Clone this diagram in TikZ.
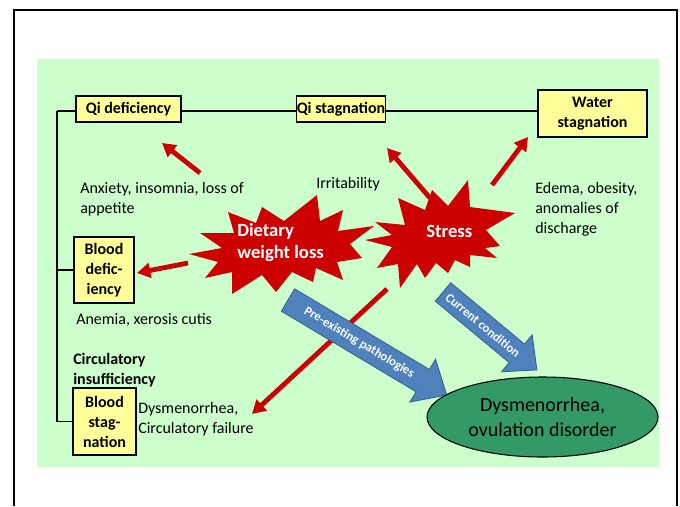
\documentclass[tikz,border=0pt]{standalone}
\usepackage{fontspec}
\setmainfont{Carlito}
\usetikzlibrary{arrows.meta,shapes.geometric}
\pgfdeclarelayer{bgA}
\pgfdeclarelayer{bgB}
\pgfsetlayers{bgA,bgB,main}
\definecolor{bggreen}{HTML}{CCFFCC}
\definecolor{boxyellow}{HTML}{FFFF99}
\definecolor{starred}{HTML}{CC0000}
\definecolor{arrblue}{HTML}{4F81BD}
\definecolor{arrblueline}{HTML}{385D8A}
\definecolor{ellgreen}{HTML}{339966}
\begin{document}
\begin{tikzpicture}[x=0.75pt,y=-0.75pt,
  ybox/.style={draw=black, line width=0.8pt, fill=boxyellow, inner sep=0pt,
    font=\fontsize{12}{15}\selectfont\bfseries, align=center},
  lbl/.style={inner sep=0pt, anchor=base west, align=left,
    font=\fontsize{12}{15}\selectfont},
  redarrow/.style={draw=starred, line width=3.6pt, -{Triangle[length=10pt,width=11pt]}},
  link/.style={draw=black, line width=1pt},
  startext/.style={inner sep=0pt, anchor=base west, align=left, text=white,
    font=\fontsize{14}{16}\selectfont\bfseries},
  blockarrow/.style={fill=arrblue, draw=arrblueline, line width=0.6pt},
  blocktext/.style={text=white, inner sep=0pt, font=\fontsize{9.5}{11}\selectfont\bfseries}
]
\useasboundingbox (0,0) rectangle (680,506);
% frame
\draw[line width=1.5pt] (14,506) -- (14,10) -- (677,10) -- (677,506);
% green panel
\begin{pgfonlayer}{bgA}
\fill[bggreen] (37,59) rectangle (659,467);
\end{pgfonlayer}

% boxes
\node[ybox, minimum width=78.75pt, minimum height=19.5pt] (qidef) at (128.5,109) {Qi deficiency};
\node[ybox, minimum width=64.5pt, minimum height=19.5pt] (qistag) at (341,109) {Qi stagnation};
\node[ybox, minimum width=81.75pt, minimum height=35.25pt] (water) at (592.5,113.5) {Water\\stagnation};
\node[ybox, minimum width=45pt, minimum height=49.5pt] (blooddef) at (104,270) {Blood\\defic-\\iency};
\node[ybox, minimum width=47.25pt, minimum height=50.25pt] (bloodstag) at (104.5,421.5) {Blood\\stag-\\nation};

% tree lines
\coordinate (trunk) at (57,111);
\begin{pgfonlayer}{bgB}
\draw[link] (trunk) -- (trunk -| water.west);
\draw[link] (trunk) |- (blooddef.west);
\draw[link] (trunk) |- (bloodstag.west);
\end{pgfonlayer}

% labels (base = baseline of the last line)
\node[lbl] (lanx) at (80,213) {Anxiety, insomnia, loss of\\appetite};
\node[lbl] (lirr) at (316,188) {Irritability};
\node[lbl] (lede) at (535,233) {Edema, obesity,\\anomalies of\\discharge};
\node[lbl] (lane) at (76,324) {Anemia, xerosis cutis};
\node[lbl, font=\fontsize{12}{15}\selectfont\bfseries] (lcirc) at (73,384) {Circulatory\\insufficiency};
\node[lbl] (ldys) at (138,433) {Dysmenorrhea,\\Circulatory failure};

% starbursts
\fill[starred] (189,254) -- (222,248) -- (200,233) -- (234,233) -- (228,212) -- (256,223)
  -- (262,207) -- (284,221) -- (317,195) -- (320,221) -- (343,210) -- (338,231)
  -- (374,226) -- (350,244) -- (362,258) -- (337,262) -- (343,280) -- (316,268)
  -- (313,282) -- (292,272) -- (276,292) -- (262,275) -- (232,294) -- (232,272)
  -- (205,278) -- (218,262) -- cycle;
\fill[starred] (375,222) -- (405,225) -- (398,198) -- (425,210) -- (432,190) -- (448,206)
  -- (468,180) -- (470,207) -- (515,213) -- (486,230) -- (500,246) -- (485,248)
  -- (497,258) -- (470,255) -- (470,267) -- (455,260) -- (448,273) -- (436,263)
  -- (425,278) -- (417,264) -- (400,288) -- (398,264) -- (377,268) -- (392,247)
  -- (365,240) -- (392,235) -- cycle;
\node[startext] (diet) at (237,258) {Dietary\\weight loss};
\node[startext] (stress) at (426,237) {Stress};

% red arrows
\coordinate (a1s) at (200,173); \coordinate (a1e) at (162,143);
\coordinate (a2s) at (188,263); \coordinate (a2e) at (137,273);
\coordinate (a3s) at (430,198); \coordinate (a3e) at (387,148);
\coordinate (a4s) at (492,185); \coordinate (a4e) at (528,137);
\coordinate (a5s) at (387,289); \coordinate (a5e) at (252,414);
\draw[redarrow] (a1s) -- (a1e);
\draw[redarrow] (a2s) -- (a2e);
\draw[redarrow] (a3s) -- (a3e);
\draw[redarrow] (a4s) -- (a4e);
\draw[redarrow] (a5s) -- (a5e);

% blue block arrows
\begin{scope}[shift={(288,300)}, rotate=-30.9]
\draw[blockarrow] (0,-13) -- (157,-13) -- (157,-25) -- (185,0) -- (157,25) -- (157,13) -- (0,13) -- cycle;
\node[blocktext, rotate=-30.9] (pre) at (83,0) {Pre-existing pathologies};
\end{scope}
\begin{scope}[shift={(443,292)}, rotate=-39.7]
\draw[blockarrow] (0,-12) -- (96,-12) -- (96,-24) -- (122,0) -- (96,24) -- (96,12) -- (0,12) -- cycle;
\node[blocktext, rotate=-39.7] (cur) at (52,0) {Current condition};
\end{scope}

% ellipse
\node[ellipse, draw=black, line width=0.8pt, fill=ellgreen, inner sep=0pt,
  minimum width=173.25pt, minimum height=60pt, align=center,
  font=\fontsize{15}{19}\selectfont] (dys) at (542.5,417) {Dysmenorrhea,\\ovulation disorder};
\end{tikzpicture}
\end{document}
